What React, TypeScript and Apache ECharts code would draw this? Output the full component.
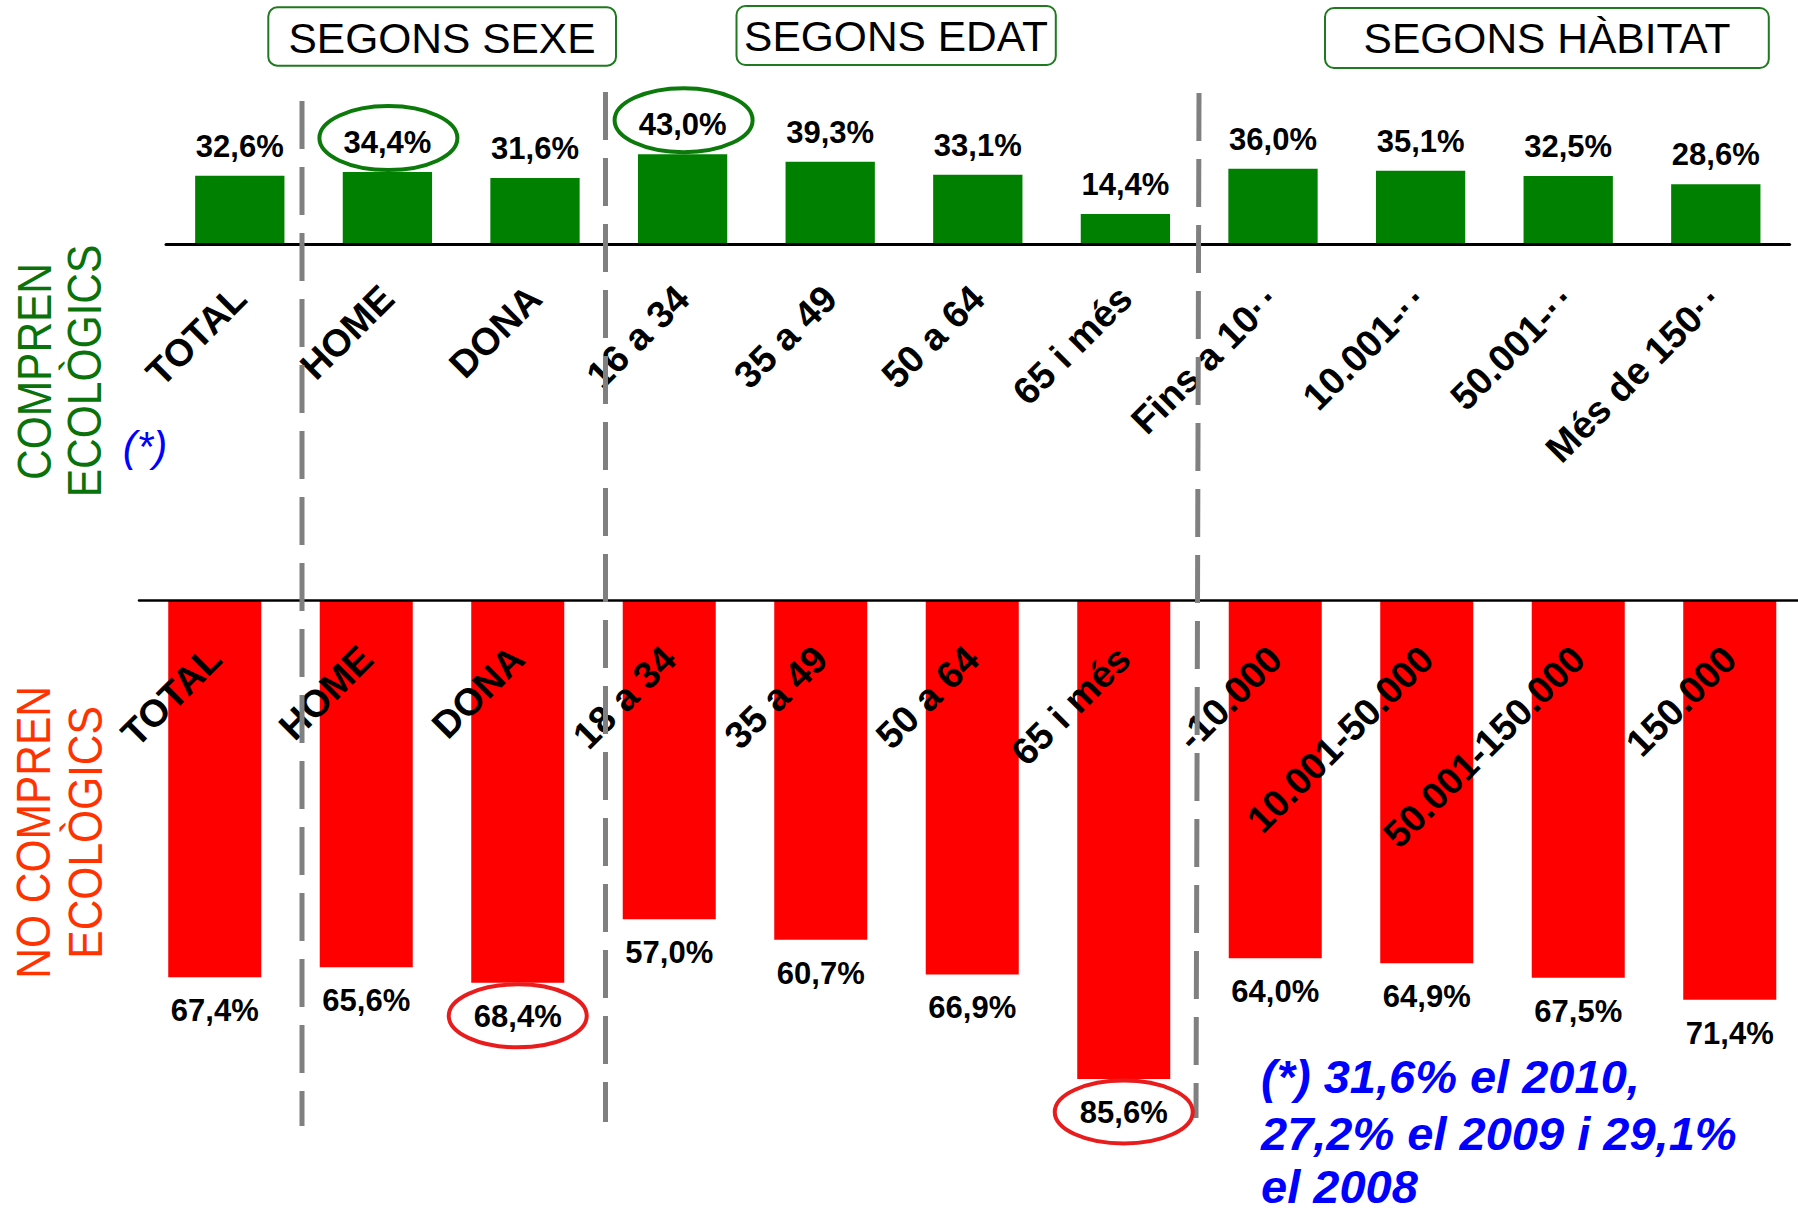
import React, { useEffect, useRef } from 'react';
import * as echarts from 'echarts';

const categoriesCompren = ['TOTAL', 'HOME', 'DONA', '16 a 34', '35 a 49', '50 a 64', '65 i més', 'Fins a 10·\u200A·', '10.001-·\u200A·', '50.001-·\u200A·', 'Més de 150·\u200A·'];
const categoriesNoCompren = ['TOTAL', 'HOME', 'DONA', '18 a 34', '35 a 49', '50 a 64', '65 i més', '-10.000', '10.001-50.000', '50.001-150.000', '150.000'];
const comprenValues = [32.6, 34.4, 31.6, 43.0, 39.3, 33.1, 14.4, 36.0, 35.1, 32.5, 28.6];
const noComprenValues = [67.4, 65.6, 68.4, 57.0, 60.7, 66.9, 85.6, 64.0, 64.9, 67.5, 71.4];
const highlightCompren = [1, 3];
const highlightNoCompren = [2, 6];
const groupTitles = ['SEGONS SEXE', 'SEGONS EDAT', 'SEGONS HÀBITAT'];
const sideTitleTop = ['COMPREN', 'ECOLÒGICS'];
const sideTitleBottom = ['NO COMPREN', 'ECOLÒGICS'];
const footnoteLines = ['(*) 31,6% el 2010,', '27,2% el 2009 i 29,1%', 'el 2008'];

const FONT = '"Liberation Sans", Arial, Helvetica, sans-serif';
const fmt = (v: number) => Math.abs(v).toFixed(1).replace('.', ',') + '%';

function txt(x: number, y: number, text: string, o: any = {}) {
  const { rotation, scaleX, z, ...st } = o;
  const el: any = {
    type: 'text',
    x,
    y,
    z: z ?? 30,
    style: {
      text,
      x: 0,
      y: 0,
      fontFamily: FONT,
      fill: '#000',
      align: 'center',
      textAlign: 'center',
      verticalAlign: 'middle',
      textVerticalAlign: 'middle',
      ...st,
    },
  };
  if (rotation !== undefined) el.rotation = rotation;
  if (scaleX !== undefined) el.scaleX = scaleX;
  return el;
}

export default function App() {
  const ref = useRef<HTMLDivElement>(null);

  useEffect(() => {
    const chart = echarts.init(ref.current!, null, { renderer: 'svg' });
    const labelStyle = {
      show: true,
      fontSize: 31,
      fontWeight: 'bold',
      fontFamily: FONT,
      color: '#000',
      formatter: (p: any) => fmt(p.value),
    };
    const baseLabel = {
      interval: 0,
      fontSize: 38,
      fontWeight: 'bold',
      fontFamily: FONT,
      color: '#000',
    };
    chart.setOption({
      animation: false,
      backgroundColor: '#ffffff',
      grid: [
        { left: 166, top: 35, width: 1623.6, height: 209, containLabel: false, outerBoundsMode: 'none' },
        { left: 139, top: 600.5, width: 1666.5, height: 559, containLabel: false, outerBoundsMode: 'none' },
      ],
      xAxis: [
        {
          gridIndex: 0,
          type: 'category',
          data: categoriesCompren,
          position: 'bottom',
          z: 10,
          axisLine: { onZero: false, lineStyle: { color: '#000', width: 3 } },
          axisTick: { length: 10, lineStyle: { color: '#000', width: 2 } },
          axisLabel: { ...baseLabel, rotate: 45, margin: 48 },
        },
        {
          gridIndex: 1,
          type: 'category',
          data: categoriesNoCompren,
          position: 'top',
          z: 10,
          axisLine: { onZero: false, lineStyle: { color: '#000', width: 2.5 } },
          axisTick: { inside: true, length: 10, lineStyle: { color: '#000', width: 2 } },
          axisLabel: { ...baseLabel, inside: true, rotate: -45, align: 'right', verticalAlign: 'middle', margin: 52 },
        },
      ],
      yAxis: [
        { gridIndex: 0, type: 'value', min: 0, max: 100, show: false, splitLine: { show: false } },
        { gridIndex: 1, type: 'value', min: 0, max: 100, inverse: true, show: false, splitLine: { show: false } },
      ],
      series: [
        {
          type: 'bar',
          xAxisIndex: 0,
          yAxisIndex: 0,
          data: comprenValues,
          barWidth: '60.5%',
          itemStyle: { color: '#008000' },
          label: { ...labelStyle, position: 'top', distance: 14 },
        },
        {
          type: 'bar',
          xAxisIndex: 1,
          yAxisIndex: 1,
          data: noComprenValues,
          barWidth: '61.4%',
          itemStyle: { color: '#FF0000' },
          label: { ...labelStyle, position: 'bottom', distance: 18 },
        },
      ],
    });

    const g: any[] = [];
    // group header boxes
    const boxes = [
      [268.3, 7.3, 347.7, 58.4, 442, 38.3],
      [736.5, 6, 319.3, 59, 896, 36],
      [1325, 8, 443.8, 60, 1547, 38.5],
    ];
    boxes.forEach((b, i) => {
      g.push({
        type: 'rect',
        z: 25,
        shape: { x: b[0], y: b[1], width: b[2], height: b[3], r: 9 },
        style: { fill: '#ffffff', stroke: '#1F7A1F', lineWidth: 2 },
      });
      g.push(txt(b[4], b[5], groupTitles[i], { fontSize: 42.5 }));
    });
    // dashed separators
    const seps = [
      [302, 101, 302, 1126],
      [605.5, 92, 605.5, 1122],
      [1199, 93, 1196, 1118],
    ];
    seps.forEach((s) => {
      g.push({
        type: 'line',
        z: 20,
        shape: { x1: s[0], y1: s[1], x2: s[2], y2: s[3] },
        style: { stroke: '#808080', lineWidth: 5, lineDash: [48, 18] },
      });
    });
    // side titles
    g.push(txt(34.2, 371.5, sideTitleTop[0], { fontSize: 48, fill: '#0A720A', rotation: Math.PI / 2, scaleX: 0.885 }));
    g.push(txt(85, 371, sideTitleTop[1], { fontSize: 48, fill: '#0A720A', rotation: Math.PI / 2, scaleX: 0.885 }));
    g.push(txt(34, 832.4, sideTitleBottom[0], { fontSize: 48, fill: '#FF3300', rotation: Math.PI / 2, scaleX: 0.885 }));
    g.push(txt(85.5, 832.4, sideTitleBottom[1], { fontSize: 48, fill: '#FF3300', rotation: Math.PI / 2, scaleX: 0.885 }));
    g.push(txt(145, 446, '(*)', { fontSize: 42, fontStyle: 'italic', fill: '#0000FF' }));
    // footnote
    const baselines = [1092.3, 1150, 1203];
    footnoteLines.forEach((line, i) => {
      g.push(
        txt(1261, baselines[i] - 0.3465 * 47, line, {
          fontSize: 47,
          fontWeight: 'bold',
          fontStyle: 'italic',
          fill: '#0000FF',
          align: 'left',
          textAlign: 'left',
        })
      );
    });
    // highlight ellipses around selected value labels
    highlightCompren.forEach((i) => {
      const p = chart.convertToPixel({ xAxisIndex: 0, yAxisIndex: 0 } as any, [i, comprenValues[i]]) as number[];
      g.push({
        type: 'ellipse',
        z: 30,
        shape: { cx: p[0] + 1, cy: p[1] - 34, rx: 69, ry: 32 },
        style: { fill: 'none', stroke: '#0B7A0B', lineWidth: 4 },
      });
    });
    highlightNoCompren.forEach((i) => {
      const p = chart.convertToPixel({ xAxisIndex: 1, yAxisIndex: 1 } as any, [i, noComprenValues[i]]) as number[];
      g.push({
        type: 'ellipse',
        z: 30,
        shape: { cx: p[0], cy: p[1] + 33, rx: 69, ry: 31.5 },
        style: { fill: 'none', stroke: '#E81C1C', lineWidth: 4 },
      });
    });
    chart.setOption({ graphic: g });

    return () => chart.dispose();
  }, []);

  return (
    <div
      ref={ref}
      style={{ position: 'fixed', left: 0, top: 0, width: 1798, height: 1208, background: '#fff' }}
    />
  );
}
